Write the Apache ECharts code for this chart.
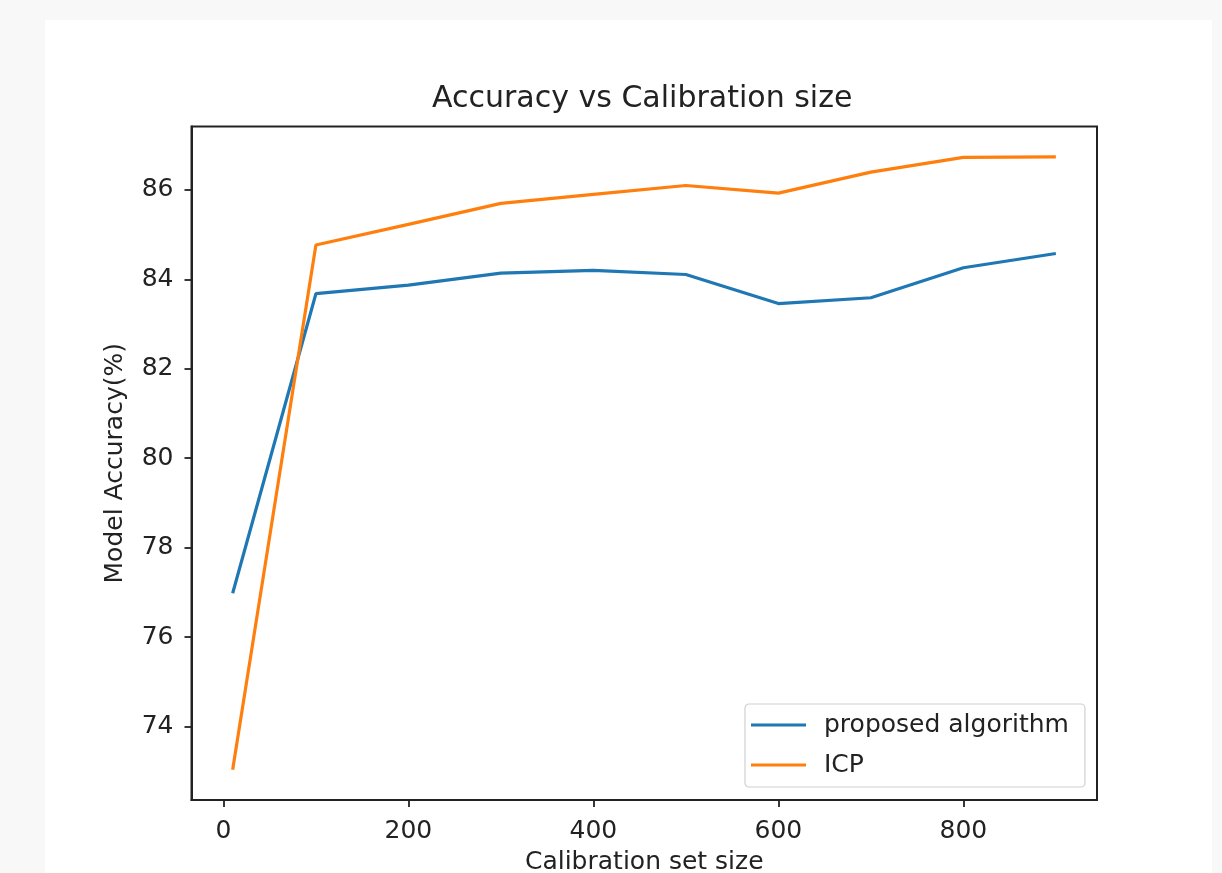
<!DOCTYPE html>
<html>
<head>
<meta charset="utf-8">
<script src="https://cdn.jsdelivr.net/npm/echarts@6/dist/echarts.min.js"></script>
<style>
  html, body {
    margin: 0;
    padding: 0;
    width: 1222px;
    height: 873px;
    background: #f8f8f8;
    overflow: hidden;
  }
  #chart {
    position: absolute;
    left: 45px;
    top: 20px;
    width: 1167px;
    height: 853px;
    background: #ffffff;
  }
</style>
</head>
<body>
<div id="chart"></div>
<script>
// calibration set sizes
const calibSizes = [10, 100, 200, 300, 400, 500, 600, 700, 800, 900]
// accuracy (%)
const proposedAcc = [76.98, 83.68, 83.87, 84.14, 84.20, 84.11, 83.46, 83.59, 84.26, 84.58]
const icpAcc = [73.03, 84.77, 85.23, 85.70, 85.90, 86.10, 85.93, 86.40, 86.73, 86.74]
// tick labels
const xTicks = [0, 200, 400, 600, 800]
const yTicks = [74, 76, 78, 80, 82, 84, 86]

const font = 'DejaVu Sans'
const ink = '#222'
const chart = echarts.init(document.getElementById('chart'))

const pairs = (xs, ys) => xs.map((x, i) => [x, ys[i]])

chart.setOption({
  animation: false,
  textStyle: { fontFamily: font },
  // title is centred over the plot area, not the panel
  title: {
    text: 'Accuracy vs Calibration size',
    left: 387,
    top: 64,
    padding: 0,
    textStyle: { fontFamily: font, fontSize: 30, fontWeight: 'normal', color: ink }
  },
  grid: {
    left: 146.5,
    top: 106.5,
    right: 115,
    bottom: 73,
    outerBoundsMode: 'none',
    show: true,
    borderColor: '#222',
    borderWidth: 2,
    backgroundColor: 'transparent'
  },
  legend: {
    orient: 'vertical',
    left: 700,
    top: 684,
    padding: [7, 16, 8, 6],
    backgroundColor: '#fff',
    borderColor: '#d0d0d0',
    borderWidth: 1.2,
    borderRadius: 4,
    icon: 'rect',
    itemWidth: 55,
    itemHeight: 3,
    itemGap: 12,
    textStyle: { fontFamily: font, fontSize: 25, color: ink, lineHeight: 28, padding: [0, 0, 0, 13] },
    data: ['proposed algorithm', 'ICP']
  },
  xAxis: {
    type: 'value',
    min: -34.5,
    max: 944.5,
    name: 'Calibration set size',
    nameLocation: 'middle',
    nameGap: 50,
    nameTextStyle: { fontFamily: font, fontSize: 25, color: ink },
    axisLine: { show: true, onZero: false, lineStyle: { color: '#222', width: 2 } },
    axisTick: { show: true, inside: false, length: 7, customValues: xTicks, lineStyle: { color: '#222', width: 1.8 } },
    axisLabel: { customValues: xTicks, margin: 19, fontFamily: font, fontSize: 25, color: ink },
    splitLine: { show: false }
  },
  yAxis: {
    type: 'value',
    min: 72.355,
    max: 87.42,
    name: 'Model Accuracy(%)',
    nameLocation: 'middle',
    nameGap: 64,
    nameTextStyle: { fontFamily: font, fontSize: 25, color: ink },
    axisLine: { show: true, onZero: false, lineStyle: { color: '#222', width: 2 } },
    axisTick: { show: true, inside: false, length: 7, customValues: yTicks, lineStyle: { color: '#222', width: 1.8 } },
    axisLabel: { customValues: yTicks, margin: 18, fontFamily: font, fontSize: 25, color: ink },
    splitLine: { show: false }
  },
  series: [
    {
      name: 'proposed algorithm',
      type: 'line',
      data: pairs(calibSizes, proposedAcc),
      showSymbol: false,
      color: '#1f77b4',
      lineStyle: { width: 3.2, color: '#1f77b4' }
    },
    {
      name: 'ICP',
      type: 'line',
      data: pairs(calibSizes, icpAcc),
      showSymbol: false,
      color: '#ff7f0e',
      lineStyle: { width: 3.2, color: '#ff7f0e' }
    }
  ]
})

window.addEventListener('resize', () => chart.resize())
</script>
</body>
</html>
